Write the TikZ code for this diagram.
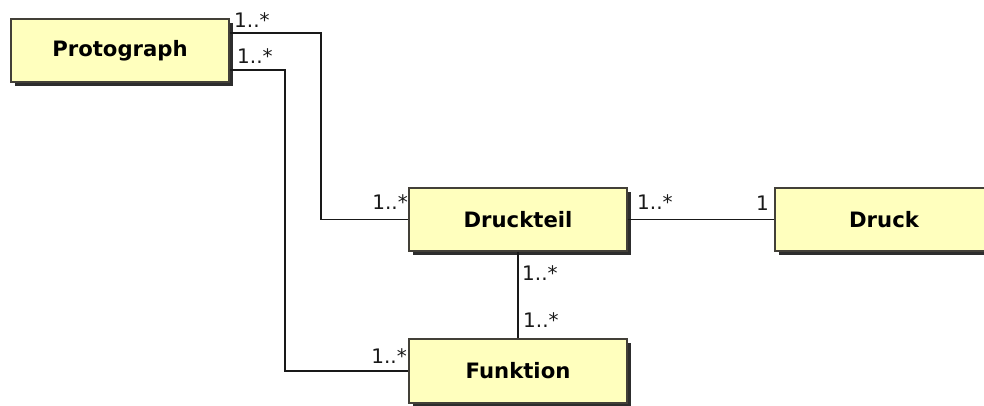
\documentclass[tikz,border=0pt]{standalone}
\usepackage{fontspec}
\setmainfont{DejaVu Sans}
\usetikzlibrary{shadows}
\definecolor{boxfill}{RGB}{255,255,190}
\definecolor{shadowgray}{RGB}{45,45,45}
\tikzset{
  classbox/.style={draw=black!85!yellow, line width=1.4pt, fill=boxfill,
    minimum width=218pt, minimum height=63pt, inner sep=0pt,
    font=\fontsize{21.2}{25}\selectfont\bfseries,
    drop shadow={shadow xshift=4pt, shadow yshift=-4pt, fill=shadowgray, opacity=1}},
  conn/.style={line width=1.5pt, black!90},
  mult/.style={inner sep=0pt, font=\fontsize{20}{24}\selectfont, text=black!90}
}
\begin{document}
\begin{tikzpicture}[x=1pt,y=-1pt]
\useasboundingbox (0,0) rectangle (984,405);
\clip (0,0) rectangle (984,405);
\node[classbox] (proto) at (120,50.5) {Protograph};
\node[classbox] (druckteil) at (518,219.5) {Druckteil};
\node[classbox] (druck) at (884,219.5) {Druck};
\node[classbox, minimum height=64pt] (funktion) at (518,371) {Funktion};
\coordinate (c1) at (321,219.5);
\coordinate (c2) at (285,371);
\draw[conn] ([yshift=17.5pt]proto.east) -| (c1) -- (druckteil.west);
\draw[conn] ([yshift=-19.5pt]proto.east) -| (c2) -- (funktion.west);
\draw[conn] (druckteil.east) -- (druck.west);
\draw[conn] (druckteil.south) -- (funktion.north);
\node[mult, anchor=base west] (m1) at (234,27) {1..*};
\node[mult, anchor=base west] (m2) at (237,63) {1..*};
\node[mult, anchor=base east] (m3) at (408,209) {1..*};
\node[mult, anchor=base west] (m4) at (637,209) {1..*};
\node[mult, anchor=base east] (m5) at (769,210) {1};
\node[mult, anchor=base west] (m6) at (522,280) {1..*};
\node[mult, anchor=base west] (m7) at (523,327) {1..*};
\node[mult, anchor=base east] (m8) at (407,363) {1..*};
\end{tikzpicture}
\end{document}
